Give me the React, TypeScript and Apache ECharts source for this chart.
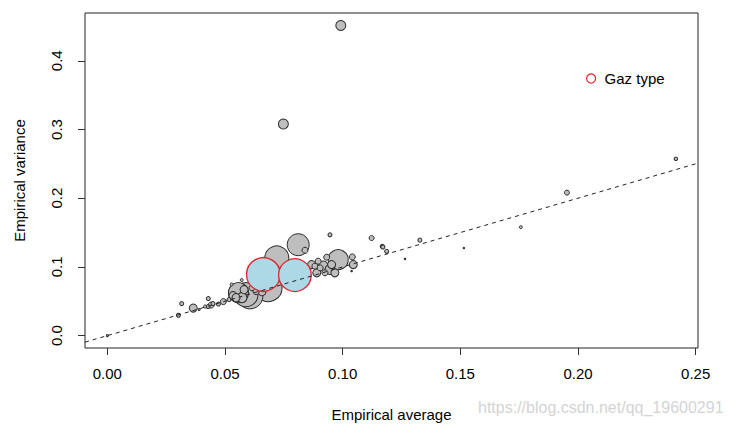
import { useEffect, useRef } from 'react'
import * as echarts from 'echarts'

// empirical average / empirical variance per group, weight = circle area
const avgX = [
  0.0, 0.0302, 0.0316, 0.0365, 0.039, 0.0415, 0.0429, 0.0428, 0.0441, 0.0449,
  0.0472, 0.0493, 0.0517, 0.0528, 0.0534, 0.0557, 0.0547, 0.0571, 0.0572, 0.0589,
  0.0606, 0.0581, 0.0615, 0.0632, 0.064, 0.0657, 0.0674, 0.0683, 0.072, 0.0811,
  0.084, 0.0946, 0.0981, 0.1041, 0.1045, 0.1038, 0.1123, 0.1168, 0.1171, 0.1187,
  0.1265, 0.1328, 0.1515, 0.1757, 0.1953, 0.2416, 0.0992, 0.0748, 0.0868, 0.0882,
  0.089, 0.0904, 0.0918, 0.0932, 0.0946, 0.0953, 0.0967, 0.0896, 0.0925,
]
const varY = [
  0.0, 0.0297, 0.0466, 0.0401, 0.038, 0.0423, 0.0539, 0.0423, 0.0445, 0.0466,
  0.0459, 0.0495, 0.0524, 0.0745, 0.0582, 0.0625, 0.0553, 0.0809, 0.0553, 0.0596,
  0.0578, 0.0669, 0.0697, 0.064, 0.0697, 0.064, 0.0697, 0.0698, 0.113, 0.1323,
  0.1242, 0.1467, 0.1106, 0.1145, 0.1034, 0.0939, 0.142, 0.13, 0.129, 0.1227,
  0.1116, 0.139, 0.1275, 0.1578, 0.2081, 0.2573, 0.4514, 0.308, 0.1034, 0.1011,
  0.0914, 0.0986, 0.1011, 0.1141, 0.0962, 0.1034, 0.0914, 0.1083, 0.0914,
]
const weight = [
  0.37, 1.47, 1.47, 5.9, 0.37, 0.83, 1.47, 1.47, 3.3, 1.47,
  1.47, 3.3, 1.47, 0.83, 5.9, 36.7, 5.9, 0.83, 9.2, 52.9,
  62, 5.9, 3.3, 3.3, 5.9, 5.9, 1.47, 72, 52.9, 44.4,
  3.3, 1.47, 36.7, 3.3, 5.9, 0.2, 2.3, 1.47, 1.47, 1.47,
  0.2, 1.47, 0.2, 0.83, 2.3, 1.1, 9.2, 9.2, 5.9, 3.3,
  5.9, 3.3, 9.2, 3.3, 9.2, 5.9, 5.9, 3.3, 3.3,
]

// gaz type groups
const gazX = [0.0663, 0.0797]
const gazY = [0.089, 0.0881]
const gazW = [104, 98]

const xTicks = [0, 0.05, 0.1, 0.15, 0.2, 0.25]
const yTicks = [0, 0.1, 0.2, 0.3, 0.4]

const X_MIN = -0.0095
const X_MAX = 0.251
const Y_MIN = -0.018
const Y_MAX = 0.4695

const FONT = '"Liberation Sans", Arial, Helvetica, sans-serif'
const diam = (w: number) => 3.3 * Math.sqrt(w)

export default function App() {
  const ref = useRef<HTMLDivElement>(null)

  useEffect(() => {
    if (!ref.current) return
    const chart = echarts.init(ref.current, null, { renderer: 'svg' })

    // big circles first so the small ones stay visible on top
    const grey = avgX
      .map((x, i) => [x, varY[i], weight[i]])
      .sort((a, b) => b[2] - a[2])
    const gaz = gazX.map((x, i) => [x, gazY[i], gazW[i]])

    chart.setOption({
      animation: false,
      grid: {
        left: 85,
        top: 13,
        width: 613,
        height: 337,
        show: true,
        borderColor: '#222',
        borderWidth: 1,
        backgroundColor: 'transparent',
      },
      legend: {
        data: ['Gaz type'],
        left: 581,
        top: 66,
        icon: 'circle',
        itemWidth: 9,
        itemHeight: 9,
        itemStyle: { color: '#fff', borderColor: '#e0232b', borderWidth: 1.2 },
        textStyle: { fontFamily: FONT, fontSize: 15, color: '#000', padding: [0, 0, 0, 4] },
      },
      xAxis: {
        type: 'value',
        min: X_MIN,
        max: X_MAX,
        name: 'Empirical average',
        nameLocation: 'middle',
        nameGap: 59,
        nameTextStyle: { fontFamily: FONT, fontSize: 15, color: '#000' },
        axisLine: { show: false, onZero: false },
        splitLine: { show: false },
        axisTick: {
          show: true,
          length: 7,
          customValues: xTicks,
          lineStyle: { color: '#333' },
        },
        axisLabel: {
          customValues: xTicks,
          formatter: (v: number) => v.toFixed(2),
          margin: 18,
          fontFamily: FONT,
          fontSize: 15,
          color: '#000',
        },
      },
      yAxis: {
        type: 'value',
        min: Y_MIN,
        max: Y_MAX,
        name: 'Empirical variance',
        nameLocation: 'middle',
        nameGap: 58,
        nameTextStyle: { fontFamily: FONT, fontSize: 15, color: '#000' },
        axisLine: { show: false, onZero: false },
        splitLine: { show: false },
        axisTick: {
          show: true,
          length: 7,
          customValues: yTicks,
          lineStyle: { color: '#333' },
        },
        axisLabel: {
          customValues: yTicks,
          formatter: (v: number) => v.toFixed(1),
          rotate: 90,
          margin: 21,
          fontFamily: FONT,
          fontSize: 15,
          color: '#000',
        },
      },
      graphic: [
        {
          type: 'text',
          left: 478,
          top: 399,
          style: {
            text: 'https://blog.csdn.net/qq_19600291',
            font: `16px ${FONT}`,
            fill: '#d4d4d4',
          },
        },
      ],
      series: [
        {
          name: 'groups',
          type: 'scatter',
          data: grey,
          symbolSize: (v: number[]) => diam(v[2]),
          itemStyle: { color: '#bebebe', borderColor: '#2b2b2b', borderWidth: 1, opacity: 1 },
          z: 2,
        },
        {
          name: 'Gaz type',
          type: 'scatter',
          data: gaz,
          symbolSize: (v: number[]) => diam(v[2]),
          itemStyle: { color: '#add8e6', borderColor: '#e0232b', borderWidth: 1.3, opacity: 1 },
          z: 3,
        },
        {
          name: 'y = x',
          type: 'line',
          data: [
            [X_MIN, X_MIN],
            [X_MAX, X_MAX],
          ],
          symbol: 'none',
          silent: true,
          lineStyle: { color: '#222', width: 1, type: [4, 4] },
          z: 4,
        },
      ],
    })

    return () => chart.dispose()
  }, [])

  return (
    <div
      ref={ref}
      style={{ position: 'absolute', left: 0, top: 0, width: 729, height: 427 }}
    />
  )
}
